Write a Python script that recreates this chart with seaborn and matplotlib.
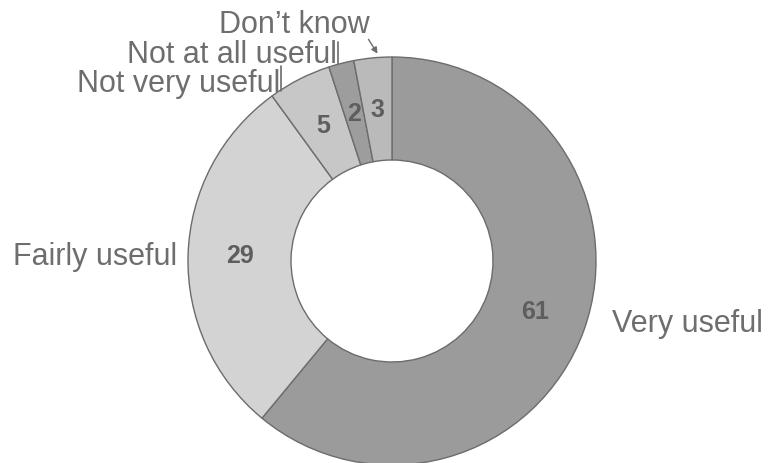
import matplotlib
matplotlib.use("Agg")
import matplotlib.pyplot as plt
import seaborn as sns

# Survey answers: how useful respondents found the service (%)
categories = ["Very useful", "Fairly useful", "Not very useful",
              "Not at all useful", "Don\u2019t know"]
percentages = [61, 29, 5, 2, 3]
shades = ["#9b9b9b", "#d3d3d3", "#c7c7c7", "#9d9d9d", "#bababa"]

sns.set_theme(style="white")
plt.rcParams["font.family"] = ["Liberation Sans", "DejaVu Sans"]

W, H = 768, 463
fig = plt.figure(figsize=(W / 100, H / 100), dpi=100)
ax = fig.add_axes([0, 0, 1, 1])

cx, cy = 392, H - 261
R_OUT, R_IN = 204, 101

palette = sns.color_palette(shades)
wedges, _, autotexts = ax.pie(
    percentages,
    colors=palette,
    startangle=90,
    counterclock=False,
    center=(cx, cy),
    radius=R_OUT,
    autopct=lambda p: f"{p:.0f}",
    pctdistance=0.745,
    wedgeprops=dict(width=R_OUT - R_IN, edgecolor="#6c6c6c", linewidth=1.0),
    textprops=dict(color="#5e5e5e", fontsize=18, fontweight="bold"),
)
for t in autotexts:
    t.set_verticalalignment("center")

ax.set_xlim(0, W)
ax.set_ylim(0, H)
ax.set_aspect("equal")
ax.axis("off")

label_color = "#6e6e6e"
fs = 22


def put(text, x, y_top, ha):
    ax.text(x, H - y_top, text, ha=ha, va="baseline", fontsize=fs,
            color=label_color)


put(categories[0], 612, 332, "left")
put(categories[1], 177, 265, "right")
put(categories[2], 77, 92, "left")
put(categories[3], 127, 63, "left")
put(categories[4], 219, 33, "left")

# leader lines for the thin slices
ax.plot([281, 281], [H - 66, H - 91], color="#6c6c6c", lw=1.2)
ax.plot([338, 338], [H - 42, H - 64], color="#6c6c6c", lw=1.2)
ax.annotate("", xy=(379, H - 56), xytext=(367, H - 37),
            arrowprops=dict(arrowstyle="-|>", color="#6c6c6c", lw=1.0,
                            mutation_scale=9))

fig.savefig("out.png", dpi=100, facecolor="white")
